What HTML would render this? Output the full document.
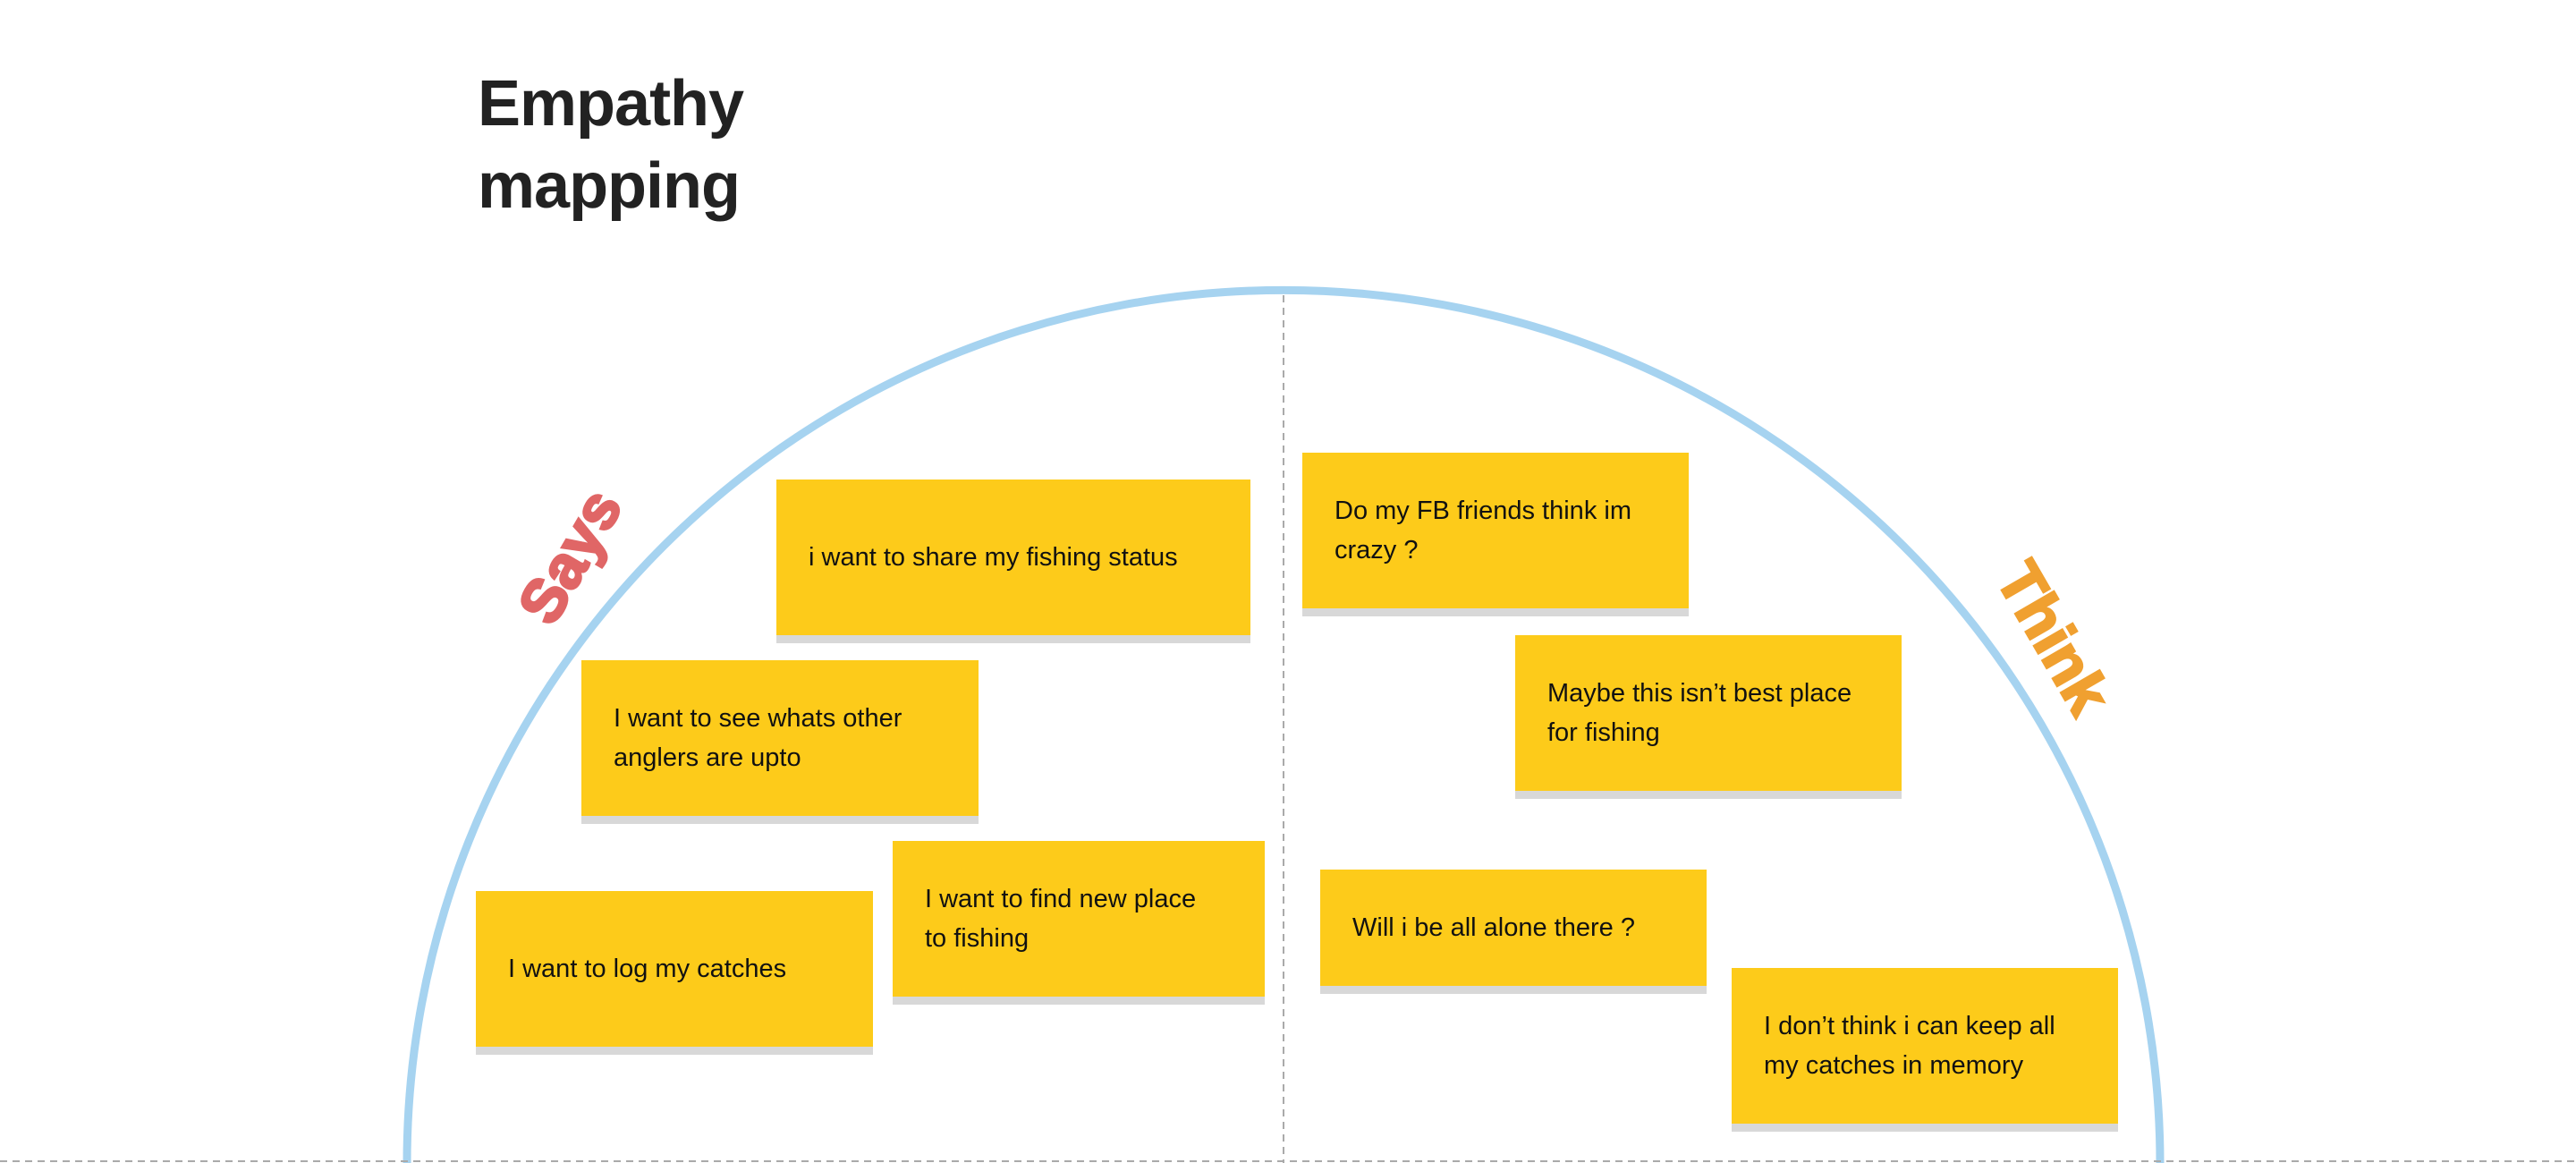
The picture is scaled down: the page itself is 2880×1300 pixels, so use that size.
<!DOCTYPE html>
<html><head><meta charset="utf-8"><style>
html,body{margin:0;padding:0;background:#fff;}
body{width:2880px;height:1300px;position:relative;overflow:hidden;font-family:"Liberation Sans",sans-serif;}
.t{position:absolute;left:534px;font-weight:bold;font-size:72px;color:#222;line-height:92px;top:70px;letter-spacing:-1px}
.n{position:absolute;background:#fdcb1a;box-shadow:0 9px 0 #d8d8d8;display:flex;align-items:center;box-sizing:border-box;padding:0 30px 0 36px;font-size:29px;line-height:44px;color:#111;}
.lbl{position:absolute;font-weight:bold;font-size:68px;white-space:nowrap;transform-origin:center center;-webkit-text-stroke:3px currentColor;}
</style></head><body>
<svg width="2880" height="1300" style="position:absolute;left:0;top:0">
<path d="M455,1300 A980,976 0 0 1 2415,1300" fill="none" stroke="#a6d3f0" stroke-width="9"/>
<line x1="1435" y1="330" x2="1435" y2="1300" stroke="#aaa" stroke-width="2" stroke-dasharray="8,6"/>
<line x1="0" y1="1298" x2="2880" y2="1298" stroke="#aaa" stroke-width="2" stroke-dasharray="8,6"/>
</svg>
<div class="t">Empathy<br>mapping</div>
<div class="lbl" style="left:558px;top:583px;color:#e06666;transform:rotate(-60deg)">Says</div>
<div class="lbl" style="left:2205px;top:674px;color:#f0a030;transform:rotate(60deg)">Think</div>
<div class="n" style="left:868px;top:536px;width:530px;height:174px">i want to share my fishing status</div>
<div class="n" style="left:650px;top:738px;width:444px;height:174px">I want to see whats other anglers are upto</div>
<div class="n" style="left:532px;top:996px;width:444px;height:174px">I want to log my catches</div>
<div class="n" style="left:998px;top:940px;width:416px;height:174px"><span>I want to find new place<br>to fishing</span></div>
<div class="n" style="left:1456px;top:506px;width:432px;height:174px">Do my FB friends think im crazy ?</div>
<div class="n" style="left:1694px;top:710px;width:432px;height:174px">Maybe this isn’t best place for fishing</div>
<div class="n" style="left:1476px;top:972px;width:432px;height:130px">Will i be all alone there ?</div>
<div class="n" style="left:1936px;top:1082px;width:432px;height:174px">I don’t think i can keep all my catches in memory</div>
</body></html>
